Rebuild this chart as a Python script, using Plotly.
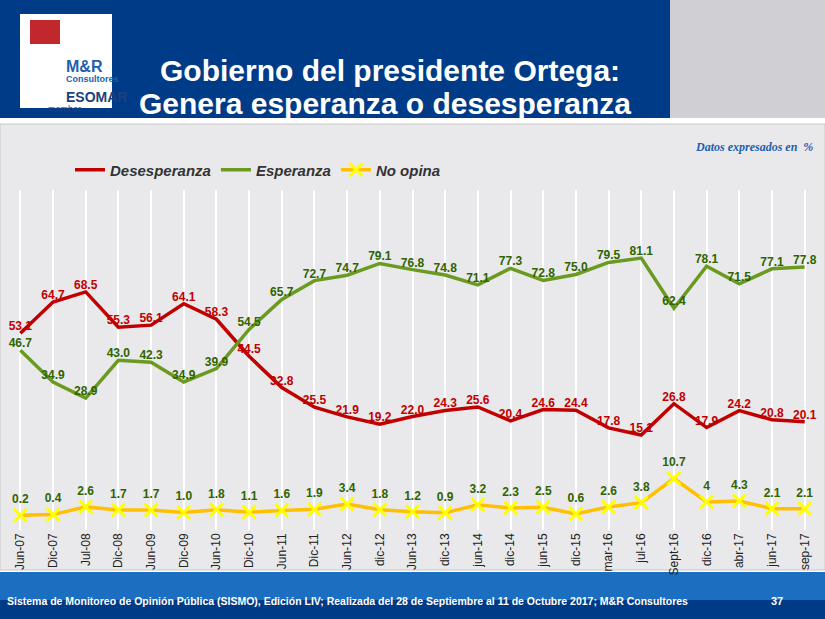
import plotly.graph_objects as go

fechas = ["Jun-07", "Dic-07", "Jul-08", "Dic-08", "Jun-09", "Dic-09", "Jun-10", "Dic-10",
          "Jun-11", "Dic-11", "Jun-12", "dic-12", "Jun-13", "dic-13", "jun-14", "dic-14",
          "jun-15", "dic-15", "mar-16", "jul-16", "Sept-16", "dic-16", "abr-17", "jun-17", "sep-17"]
desesperanza = [53.1, 64.7, 68.5, 55.3, 56.1, 64.1, 58.3, 44.5, 32.8, 25.5, 21.9, 19.2, 22.0,
                24.3, 25.6, 20.4, 24.6, 24.4, 17.8, 15.1, 26.8, 17.9, 24.2, 20.8, 20.1]
esperanza = [46.7, 34.9, 28.9, 43.0, 42.3, 34.9, 39.9, 54.5, 65.7, 72.7, 74.7, 79.1, 76.8,
             74.8, 71.1, 77.3, 72.8, 75.0, 79.5, 81.1, 62.4, 78.1, 71.5, 77.1, 77.8]
no_opina = [0.2, 0.4, 2.6, 1.7, 1.7, 1.0, 1.8, 1.1, 1.6, 1.9, 3.4, 1.8, 1.2, 0.9, 3.2, 2.3,
            2.5, 0.6, 2.6, 3.8, 10.7, 4, 4.3, 2.1, 2.1]

def etiqueta(v):
    return str(v) if isinstance(v, int) else f"{v:.1f}"

W, H = 825, 619
fy = lambda px: 1 - px / H   # pixel desde arriba -> paper
fx = lambda px: px / W

fuente_num = dict(size=12, family="Arial", weight="bold")

fig = go.Figure()
fig.add_trace(go.Scatter(
    x=fechas, y=desesperanza, name="Desesperanza", mode="lines+text",
    line=dict(color="#C00000", width=3.5),
    text=[etiqueta(v) for v in desesperanza], textposition="top center",
    textfont=dict(color="#C00000", **fuente_num), cliponaxis=False))
fig.add_trace(go.Scatter(
    x=fechas, y=esperanza, name="Esperanza", mode="lines+text",
    line=dict(color="#6A9A1F", width=3.5),
    text=[etiqueta(v) for v in esperanza], textposition="top center",
    textfont=dict(color="#2F6400", **fuente_num), cliponaxis=False))
fig.add_trace(go.Scatter(
    x=fechas, y=no_opina, name="No opina", mode="lines+markers+text", yaxis="y2",
    line=dict(color="#FFC000", width=3.5),
    marker=dict(symbol="x-thin", size=13, line=dict(color="#FFFF00", width=3), color="#FFFF00"),
    text=[etiqueta(v) for v in no_opina], textposition="top center",
    textfont=dict(color="#2F6400", **fuente_num), cliponaxis=False))

shapes = [
    dict(type="rect", xref="paper", yref="paper", x0=0, x1=1, y0=fy(570), y1=fy(124),
         fillcolor="#E9E9EB", line=dict(color="#C8C8C8", width=1), layer="below"),
    dict(type="rect", xref="paper", yref="paper", x0=0, x1=fx(670), y0=fy(118), y1=1,
         fillcolor="#003B87", line_width=0, layer="below"),
    dict(type="rect", xref="paper", yref="paper", x0=fx(670), x1=1, y0=fy(118), y1=1,
         fillcolor="#CFCFD4", line_width=0, layer="below"),
    dict(type="rect", xref="paper", yref="paper", x0=fx(20), x1=fx(112), y0=fy(108), y1=fy(14),
         fillcolor="white", line_width=0),
    dict(type="rect", xref="paper", yref="paper", x0=fx(30), x1=fx(60), y0=fy(44), y1=fy(20),
         fillcolor="#C0282D", line_width=0),
    dict(type="rect", xref="paper", yref="paper", x0=0, x1=1, y0=fy(600), y1=fy(572),
         fillcolor="#1C6FC0", line_width=0, layer="below"),
    dict(type="rect", xref="paper", yref="paper", x0=0, x1=1, y0=0, y1=fy(600),
         fillcolor="#003B87", line_width=0, layer="below"),
]

titulo = dict(xref="paper", yref="paper", showarrow=False,
              font=dict(color="white", size=30, family="Arial", weight="bold"))
logo = dict(xref="paper", yref="paper", showarrow=False)
annotations = [
    dict(text="Gobierno del presidente Ortega:", x=fx(390), y=fy(52), **titulo),
    dict(text="Genera esperanza o desesperanza", x=fx(385), y=fy(85), **titulo),
    dict(text="<b>M&R</b>", x=fx(64), y=fy(56),
         font=dict(color="#1E5FB0", size=16, family="Arial"), **logo),
    dict(text="<b>Consultores</b>", x=fx(64), y=fy(72),
         font=dict(color="#1E5FB0", size=9, family="Arial"), **logo),
    dict(text="<b>ESOMAR</b>", x=fx(64), y=fy(87),
         font=dict(color="#1E3F7F", size=14, family="Arial"), **logo),
    dict(text="member", x=fx(46), y=fy(102),
         font=dict(color="#1E3F7F", size=9, family="Arial"), **logo),
    dict(text="<b><i>Datos expresados en  %</i></b>", x=fx(815), y=fy(138),
         xref="paper", yref="paper", showarrow=False, xanchor="right",
         font=dict(color="#1E5FB0", size=12, family="Liberation Serif")),
    dict(text="<b>Sistema de Monitoreo de Opinión Pública (SISMO), Edición LIV; Realizada del 28 de "
              "Septiembre al 11 de Octubre 2017; M&R Consultores</b>",
         x=fx(5), y=fy(609), xref="paper", yref="paper", showarrow=False, xanchor="left",
         font=dict(color="white", size=10.5, family="Arial")),
    dict(text="<b>37</b>", x=fx(785), y=fy(609), xref="paper", yref="paper",
         showarrow=False, font=dict(color="white", size=11, family="Arial")),
]

fig.update_layout(
    width=W, height=H,
    margin=dict(l=0, r=0, t=0, b=0),
    paper_bgcolor="white", plot_bgcolor="rgba(0,0,0,0)",
    shapes=shapes, annotations=annotations,
    xaxis=dict(domain=[fx(4), fx(821)], range=[-0.5, 24.5], tickangle=-90, showgrid=True,
               gridcolor="white", gridwidth=2, zeroline=False, ticks="",
               tickfont=dict(size=12, family="Arial", color="#222")),
    yaxis=dict(domain=[fy(530), fy(190)], range=[-20.3, 106.5], visible=False),
    yaxis2=dict(domain=[fy(530), fy(190)], range=[-4.0, 93.1], overlaying="y", visible=False),
    legend=dict(orientation="h", x=fx(70), y=fy(170), xanchor="left", yanchor="middle",
                bgcolor="rgba(0,0,0,0)",
                font=dict(size=15, family="Arial", color="#333", style="italic", weight="bold")),
)

fig.write_html("out.html", config={"displayModeBar": False},
               post_script="document.body.style.margin='0';")
